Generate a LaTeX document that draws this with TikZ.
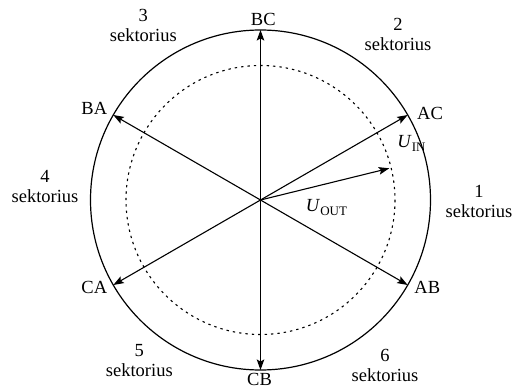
\documentclass[tikz,border=0pt]{standalone}
\usepackage{fontspec}
\setmainfont{Liberation Serif}
\usetikzlibrary{arrows.meta}
\tikzset{
  vec/.style={line width=1.1pt,-{Stealth[length=10.5pt,width=7.5pt,inset=2pt]}},
  lbl/.style={font=\fontsize{18.5}{18.5}\selectfont,inner sep=0pt},
  sect/.style={font=\fontsize{18.5}{20}\selectfont,inner sep=0pt,align=center},
}
\begin{document}
\begin{tikzpicture}[x=1pt,y=-1pt]
\useasboundingbox (0,0) rectangle (514,390);
\coordinate (O) at (260.5,200);
\draw[line width=1.2pt] (O) circle[radius=170];
\draw[line width=1.1pt,dash pattern=on 2.4pt off 4pt] (O) circle[radius=134.5];
% vector tips on the outer circle
\coordinate (tAC) at (407.7,115);
\coordinate (tAB) at (407.7,285);
\coordinate (tBA) at (113.3,115);
\coordinate (tCA) at (113.3,285);
\coordinate (tBC) at (260.5,30);
\coordinate (tCB) at (260.5,370);
\coordinate (tOUT) at (389.3,168.3);
\draw[vec] (O) -- (tAC);
\draw[vec] (O) -- (tAB);
\draw[vec] (O) -- (tBA);
\draw[vec] (O) -- (tCA);
\draw[vec] (O) -- (tBC);
\draw[vec] (O) -- (tCB);
\draw[vec] (O) -- (tOUT);
% vertex labels
\node[lbl] (lBC) at (263.3,19) {BC};
\node[lbl] (lCB) at (259.5,379.5) {CB};
\node[lbl] (lBA) at (94.3,108.5) {BA};
\node[lbl] (lAC) at (430,113.5) {AC};
\node[lbl] (lCA) at (94.3,287.5) {CA};
\node[lbl] (lAB) at (427.3,287.5) {AB};
\node[lbl] (lUIN) at (411.5,143.5) {\textit{U}\raisebox{-4pt}{\fontsize{13}{13}\selectfont IN}};
\node[lbl] (lUOUT) at (326.5,208) {\textit{U}\raisebox{-4pt}{\fontsize{13}{13}\selectfont OUT}};
% sector labels
\node[sect] (s1) at (479,201) {1\\sektorius};
\node[sect] (s2) at (398,34.5) {2\\sektorius};
\node[sect] (s3) at (143.3,25.5) {3\\sektorius};
\node[sect] (s4) at (45,187) {4\\sektorius};
\node[sect] (s5) at (139.3,361) {5\\sektorius};
\node[sect] (s6) at (385,365.5) {6\\sektorius};
\end{tikzpicture}
\end{document}
